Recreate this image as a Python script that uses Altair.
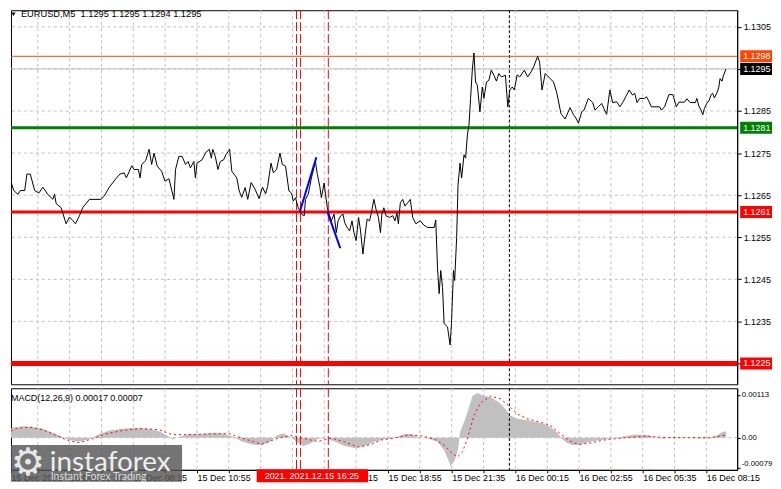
import altair as alt
import pandas as pd

# ---------------- data ----------------
# bar index: 0 = 15 Dec 02:55, one bar = 5 minutes
price_bar = [0.2,1.0,2.7,3.9,6.0,7.2,9.4,10.5,12.2,14.4,16.5,18.5,21.0,23.5,24.4,25.2,27.7,30.2,31.9,33.5,34.9,36.9,38.5,41.9,47.7,49.4,51.9,55.2,57.2,59.4,60.5,63.2,64.4,66.5,67.4,68.2,70.2,71.9,73.2,74.4,76.0,78.2,79.9,81.9,84.4,85.2,86.9,88.5,90.2,91.5,92.7,94.4,95.2,96.0,98.5,100.5,102.2,103.2,103.9,105.2,106.5,107.7,109.4,110.5,112.4,113.5,116.0,117.2,118.5,120.2,121.5,123.2,125.2,127.2,128.9,130.5,131.5,133.2,134.4,136.0,137.7,138.9,140.5,142.2,143.5,144.4,145.5,146.9,148.5,149.9,150.5,151.9,153.5,155.5,156.5,157.7,158.5,159.9,160.5,161.5,162.2,163.5,164.9,166.0,166.9,168.2,169.4,170.2,171.5,172.7,173.9,174.9,176.0,177.2,178.2,179.4,180.5,181.5,182.7,183.5,184.9,186.0,187.2,188.2,188.9,189.9,191.0,192.7,194.4,195.5,196.5,197.2,198.2,199.4,200.5,201.9,203.2,204.4,206.0,208.2,210.0,211.9,215.2,216.0,216.9,217.7,218.5,219.4,220.2,221.9,223.2,223.9,224.9,225.5,226.5,227.2,228.2,229.0,230.2,231.0,231.9,232.7,233.5,234.4,235.2,236.0,236.9,238.2,239.4,240.2,241.5,242.7,243.9,245.2,246.5,247.7,249.0,251.0,252.2,253.2,254.4,255.5,256.9,258.2,260.5,262.2,263.9,265.2,267.2,268.2,269.4,271.0,272.7,275.2,276.9,278.9,281.0,283.5,285.2,286.5,287.7,289.4,290.5,292.7,294.9,296.0,297.7,299.4,300.5,301.9,303.5,304.9,306.9,308.5,310.2,311.5,313.2,314.9,316.0,317.2,318.5,321.0,321.9,323.2,324.4,328.5,329.4,331.0,333.2,335.2,336.9,338.2,341.0,342.2,343.9,346.5,347.2,348.2,349.4,350.2,351.0,352.2,353.5,354.4,355.2,356.0,357.2,358.2,358.9,359.9,360.5,361.9]
price_val = [1.12671,1.12652,1.12679,1.12661,1.12652,1.12661,1.12661,1.12700,1.12700,1.12661,1.12655,1.12669,1.12652,1.12640,1.12652,1.12630,1.12620,1.12582,1.12598,1.12590,1.12582,1.12601,1.12620,1.12640,1.12640,1.12648,1.12669,1.12689,1.12700,1.12703,1.12691,1.12720,1.12711,1.12711,1.12691,1.12723,1.12732,1.12759,1.12723,1.12750,1.12719,1.12707,1.12683,1.12689,1.12640,1.12711,1.12742,1.12742,1.12723,1.12730,1.12715,1.12730,1.12691,1.12726,1.12734,1.12752,1.12759,1.12738,1.12759,1.12742,1.12711,1.12730,1.12734,1.12746,1.12759,1.12707,1.12691,1.12660,1.12645,1.12668,1.12640,1.12680,1.12664,1.12642,1.12669,1.12653,1.12671,1.12726,1.12703,1.12711,1.12750,1.12723,1.12719,1.12660,1.12655,1.12636,1.12644,1.12620,1.12605,1.12601,1.12640,1.12652,1.12691,1.12730,1.12699,1.12671,1.12644,1.12679,1.12655,1.12620,1.12608,1.12589,1.12605,1.12561,1.12589,1.12601,1.12605,1.12585,1.12573,1.12565,1.12589,1.12561,1.12542,1.12597,1.12565,1.12510,1.12557,1.12593,1.12589,1.12605,1.12640,1.12616,1.12597,1.12561,1.12605,1.12620,1.12601,1.12597,1.12601,1.12589,1.12608,1.12582,1.12632,1.12640,1.12624,1.12632,1.12640,1.12597,1.12582,1.12589,1.12579,1.12573,1.12573,1.12591,1.12475,1.12416,1.12471,1.12431,1.12345,1.12337,1.12294,1.12345,1.12471,1.12447,1.12549,1.12675,1.12726,1.12691,1.12746,1.12738,1.12793,1.12817,1.12880,1.12950,1.12988,1.12919,1.12911,1.12848,1.12907,1.12880,1.12919,1.12923,1.12947,1.12935,1.12921,1.12939,1.12931,1.12935,1.12860,1.12900,1.12907,1.12900,1.12936,1.12931,1.12947,1.12931,1.12943,1.12955,1.12980,1.12966,1.12900,1.12939,1.12931,1.12919,1.12892,1.12844,1.12831,1.12858,1.12841,1.12833,1.12821,1.12848,1.12852,1.12880,1.12870,1.12852,1.12860,1.12868,1.12856,1.12842,1.12900,1.12870,1.12872,1.12860,1.12872,1.12884,1.12900,1.12888,1.12892,1.12870,1.12880,1.12880,1.12884,1.12872,1.12860,1.12860,1.12852,1.12860,1.12889,1.12889,1.12860,1.12871,1.12871,1.12879,1.12870,1.12870,1.12880,1.12862,1.12852,1.12841,1.12856,1.12868,1.12876,1.12889,1.12892,1.12881,1.12892,1.12905,1.12927,1.12921,1.12933,1.12950]

hist_bar = [0.2,3.5,8.5,13.5,18.5,23.5,27.7,31.9,36.9,41.9,46.9,51.9,58.5,65.2,71.9,76.9,81.0,83.5,86.9,91.9,98.5,105.2,110.2,114.4,118.5,123.5,128.5,132.7,136.0,139.4,142.7,146.0,149.4,152.7,156.9,161.0,165.2,170.2,175.2,180.2,185.2,190.2,195.2,200.2,203.5,206.9,211.9,216.9,220.2,222.7,223.5,225.5,227.2,228.2,230.2,232.2,234.4,236.9,239.4,243.5,247.7,251.0,253.5,256.9,261.9,266.9,270.2,273.5,276.9,279.4,281.9,285.2,288.5,293.5,298.5,303.5,308.5,315.2,321.9,326.9,330.2,335.2,341.9,348.5,353.5,356.9,360.2,361.9]
hist_val = [0.00015,0.00027,0.00030,0.00028,0.00024,0.00013,0.00004,-0.00007,-0.00010,-0.00004,0.00010,0.00019,0.00024,0.00026,0.00024,0.00017,0.00006,-0.00004,0.00002,0.00009,0.00010,0.00013,0.00010,0.00002,-0.00010,-0.00018,-0.00020,-0.00011,0.00006,0.00012,0.00002,-0.00011,-0.00022,-0.00016,-0.00003,-0.00001,-0.00010,-0.00022,-0.00027,-0.00022,-0.00011,-0.00004,-0.00001,0.00010,0.00010,0.00002,-0.00002,-0.00011,-0.00033,-0.00064,-0.00075,-0.00060,-0.00031,0.00015,0.00041,0.00072,0.00110,0.00118,0.00112,0.00107,0.00094,0.00076,0.00059,0.00050,0.00046,0.00041,0.00037,0.00028,0.00015,-0.00003,-0.00014,-0.00020,-0.00018,-0.00011,-0.00007,-0.00002,0.00002,0.00008,0.00008,0.00000,-0.00003,0.00002,0.00000,-0.00002,-0.00002,0.00005,0.00015,0.00017]

sig_bar = [0.2,5.2,11.9,18.5,25.2,31.9,36.9,43.5,50.2,58.5,68.5,76.9,83.5,91.9,101.9,111.9,118.5,128.5,136.9,143.5,150.2,156.9,163.5,170.2,176.9,183.5,188.5,195.2,201.9,208.5,215.2,220.2,224.4,226.9,229.4,231.9,235.2,238.5,243.5,248.5,252.7,256.9,261.9,268.5,273.5,278.5,283.5,287.7,293.5,301.9,311.9,321.9,331.9,343.5,353.5,358.5,361.9]
sig_val = [0.00012,0.00024,0.00028,0.00021,0.00006,-0.00009,-0.00013,-0.00003,0.00010,0.00019,0.00024,0.00021,0.00008,0.00008,0.00010,0.00011,-0.00001,-0.00017,-0.00001,0.00006,-0.00003,-0.00010,-0.00001,-0.00011,-0.00025,-0.00018,-0.00006,-0.00001,0.00007,0.00005,-0.00003,-0.00020,-0.00042,-0.00051,-0.00038,-0.00003,0.00059,0.00092,0.00110,0.00103,0.00085,0.00063,0.00050,0.00041,0.00033,0.00011,-0.00009,-0.00018,-0.00014,-0.00005,0.00000,0.00004,0.00000,0.00000,0.00000,0.00004,0.00007]

blue_id = ["a", "a", "b", "b"]
blue_bar = [147.7, 156.0, 161.5, 168.0]
blue_val = [1.12611, 1.12740, 1.12611, 1.12524]

level_vals = [1.1298, 1.1295, 1.1281, 1.1261, 1.1225]
level_text = ["1.1298", "1.1295", "1.1281", "1.1261", "1.1225"]
level_color = ["#FF4500", "#C0C0C0", "#008000", "#FF0000", "#FF0000"]
level_width = [1, 1, 3, 3, 5]
level_box = ["#FF4500", "#000000", "#008000", "#FF0000", "#FF0000"]

red_vline_bars = [146, 148, 162]
black_vline_bars = [253]
grid_bars = [16, 32, 48, 64, 80, 96, 112, 128, 144, 160, 176, 192, 208, 224, 240, 256, 272, 288, 304, 320, 336, 352]
y_ticks = [1.1225, 1.1235, 1.1245, 1.1255, 1.1265, 1.1275, 1.1285, 1.1295, 1.1305]
y_tick_labels = ["1.1225", "1.1235", "1.1245", "1.1255", "1.1265", "1.1275", "1.1285", "1.1295", "1.1305"]
x_label_bars = [0, 32, 64, 96, 128, 160, 192, 224, 256, 288, 320, 352]
x_labels = ["15 Dec 2021", "15 Dec 05:35", "15 Dec 08:15", "15 Dec 10:55", "15 Dec 13:35",
            "15 Dec 16:15", "15 Dec 18:55", "15 Dec 21:35", "16 Dec 00:15", "16 Dec 02:55",
            "16 Dec 05:35", "16 Dec 08:15"]
macd_ticks = [0.00113, 0.0, -0.00079]
macd_tick_labels = ["0.00113", "0.00", "-0.00079"]

title_text = "EURUSD,M5\u00a0 1.1295 1.1295 1.1294 1.1295"
macd_text = "MACD(12,26,9) 0.00017 0.00007"
date_box_text = "2021.  2021.12.15 16:25"

# ---------------- layout ----------------
W = 730
H_MAIN = 376
H_MACD = 82
X_LO = 2.5
X_HI = X_LO + W / 2
FONT = "Liberation Sans"


def ternary(vals, labels):
    expr = "''"
    for v, l in zip(vals, labels):
        expr = f"abs(datum.value - ({v})) < 1e-9 ? '{l}' : " + expr
    return expr


xs = alt.Scale(domain=[X_LO, X_HI], nice=False, zero=False)
ys_main = alt.Scale(domain=[1.1220058, 1.1308948], nice=False, zero=False)
ys_macd = alt.Scale(domain=[-0.00085, 0.001308], nice=False, zero=False)

# shared axis definitions (identical in every layer so that they merge)
ax_main_y = alt.Axis(
    orient="right", values=y_ticks, labelExpr=ternary(y_ticks, y_tick_labels),
    grid=False, ticks=True, tickSize=4, tickColor="black", domain=True, domainColor="black",
    labelPadding=2, labelFontSize=9, labelFont=FONT, labelColor="black", title=None,
    labelOverlap=False, labelBound=False)
ax_macd_y = alt.Axis(
    orient="right", values=macd_ticks, labelExpr=ternary(macd_ticks, macd_tick_labels),
    grid=False, ticks=True, tickSize=3, tickColor="black", domain=True, domainColor="black",
    labelPadding=1, labelFontSize=7.8, labelFont=FONT, labelColor="black", title=None,
    labelOverlap=False, labelBound=False,
    labelBaseline={"condition": {"test": "datum.value < 0", "value": "bottom"},
                   "value": "middle"})
xaxis_vals = sorted(set(grid_bars + [max(b, X_LO) for b in x_label_bars]))
xaxis_labels_vals = [max(b, X_LO) for b in x_label_bars]
ax_macd_x = alt.Axis(
    values=xaxis_vals, labelExpr=ternary(xaxis_labels_vals, x_labels), grid=False,
    ticks=True, tickSize=3, tickColor="black", domain=True, domainColor="black",
    labelAlign="left", labelBaseline="top", labelPadding=1, labelFontSize=9, labelFont=FONT,
    labelColor="black", labelOverlap=False, labelBound=False, labelFlush=False, title=None)

price_df = pd.DataFrame({"b": price_bar, "p": price_val})
hist_df = pd.DataFrame({"b": hist_bar, "v": hist_val})
sig_df = pd.DataFrame({"b": sig_bar, "v": sig_val})
blue_df = pd.DataFrame({"id": blue_id, "b": blue_bar, "p": blue_val})
lvl_df = pd.DataFrame({"p": level_vals, "t": level_text, "c": level_color,
                       "w": level_width, "bc": level_box})
grid_df = pd.DataFrame({"b": grid_bars})
ygrid_df = pd.DataFrame({"p": y_ticks})
redv_df = pd.DataFrame({"b": red_vline_bars})
blkv_df = pd.DataFrame({"b": black_vline_bars})
one = pd.DataFrame({"a": [0]})


def XM():
    return alt.X("b:Q", scale=xs, axis=None)


def YM(field="p"):
    return alt.Y(f"{field}:Q", scale=ys_main, axis=ax_main_y)


def XD():
    return alt.X("b:Q", scale=xs, axis=ax_macd_x)


def YD(field="v"):
    return alt.Y(f"{field}:Q", scale=ys_macd, axis=ax_macd_y)


# ---------------- main price panel ----------------
vgrid = alt.Chart(grid_df).mark_rule(color="#C0C0C0", strokeDash=[3, 3], strokeWidth=1).encode(x=XM())
hgrid = alt.Chart(ygrid_df).mark_rule(color="#C0C0C0", strokeDash=[3, 3], strokeWidth=1).encode(y=YM())
redv_main = alt.Chart(redv_df).mark_rule(color="#FF0000", strokeDash=[9, 3], strokeWidth=1).encode(x=XM())
blkv_main = alt.Chart(blkv_df).mark_rule(color="#000000", strokeDash=[3, 2], strokeWidth=1).encode(x=XM())
levels = alt.Chart(lvl_df).mark_rule().encode(
    y=YM(), color=alt.Color("c:N", scale=None),
    strokeWidth=alt.StrokeWidth("w:Q", scale=None))
price_line = alt.Chart(price_df).mark_line(color="black", strokeWidth=1, clip=True).encode(
    x=XM(), y=YM())
blue_lines = alt.Chart(blue_df).mark_line(color="#0000FF", strokeWidth=2, clip=True).encode(
    x=XM(), y=YM(), detail="id:N")

box_w, box_h = 32, 12
box_path = f"M-1,{-box_h/box_w:.4f}L1,{-box_h/box_w:.4f}L1,{box_h/box_w:.4f}L-1,{box_h/box_w:.4f}Z"
lvl_boxes = alt.Chart(lvl_df).mark_point(shape=box_path, filled=True, opacity=1, size=box_w ** 2,
                                         strokeWidth=0).encode(
    x=alt.value(W + 3 + box_w / 2), y=YM(), color=alt.Color("bc:N", scale=None))
lvl_texts = alt.Chart(lvl_df).mark_text(align="left", baseline="middle", color="white",
                                        font=FONT, fontSize=9).encode(
    x=alt.value(W + 6), y=YM(), text="t:N")

title = alt.Chart(one).mark_text(align="left", baseline="middle", font=FONT, fontSize=9.3,
                                 color="black", text=title_text).encode(
    x=alt.value(10), y=alt.value(4))
tri = alt.Chart(one).mark_point(shape="triangle-down", filled=True, color="black", size=18,
                                opacity=1).encode(x=alt.value(2.5), y=alt.value(4))

main = alt.layer(vgrid, hgrid, redv_main, blkv_main, levels, price_line, blue_lines,
                 lvl_boxes, lvl_texts, tri, title).properties(width=W, height=H_MAIN)

# ---------------- MACD panel ----------------
vgrid2 = alt.Chart(grid_df).mark_rule(color="#C0C0C0", strokeDash=[3, 3], strokeWidth=1).encode(x=XD())
zero = alt.Chart(pd.DataFrame({"v": [0.0]})).mark_rule(color="#C0C0C0", strokeDash=[3, 3]).encode(y=YD())
hist = alt.Chart(hist_df).mark_area(color="#C0C0C0", opacity=1, clip=True).encode(
    x=XD(), y=YD(), y2=alt.datum(0))
redv2 = alt.Chart(redv_df).mark_rule(color="#FF0000", strokeDash=[9, 3], strokeWidth=1).encode(x=XD())
blkv2 = alt.Chart(blkv_df).mark_rule(color="#000000", strokeDash=[3, 2], strokeWidth=1).encode(x=XD())
signal = alt.Chart(sig_df).mark_line(color="#FF0000", strokeDash=[2, 3], strokeWidth=1, clip=True).encode(
    x=XD(), y=YD())
macd_label = alt.Chart(one).mark_text(align="left", baseline="middle", font=FONT, fontSize=9,
                                      color="black", text=macd_text).encode(
    x=alt.value(0), y=alt.value(9.5))

wm_box = alt.Chart(one).mark_rect(fill="#555555", opacity=0.82).encode(
    x=alt.value(0), x2=alt.value(172), y=alt.value(57), y2=alt.value(94))
wm_gear = alt.Chart(one).mark_text(align="center", baseline="middle", font="DejaVu Sans",
                                   fontSize=38, color="#e8e8e8", text="\u2699").encode(
    x=alt.value(17), y=alt.value(76))
wm_name = alt.Chart(one).mark_text(align="left", baseline="alphabetic", font="Lato",
                                   fontSize=28, color="#eeeeee", text="instaforex").encode(
    x=alt.value(39), y=alt.value(83))
wm_sub = alt.Chart(one).mark_text(align="left", baseline="middle", font="Lato",
                                  fontSize=10.5, color="#dddddd", text="Instant Forex Trading").encode(
    x=alt.value(40), y=alt.value(89))

db_w, db_h = 112, 13
db_path = f"M-1,{-db_h/db_w:.4f}L1,{-db_h/db_w:.4f}L1,{db_h/db_w:.4f}L-1,{db_h/db_w:.4f}Z"
date_box = alt.Chart(one).mark_point(shape=db_path, filled=True, color="#FF0000", opacity=1,
                                     size=db_w ** 2, strokeWidth=0).encode(
    x=alt.value(247 + db_w / 2), y=alt.value(88))
date_txt = alt.Chart(one).mark_text(align="left", baseline="middle", font=FONT, fontSize=9,
                                    color="white", text=date_box_text).encode(
    x=alt.value(255), y=alt.value(88))

macd = alt.layer(vgrid2, zero, hist, redv2, blkv2, signal, macd_label,
                 wm_box, wm_gear, wm_name, wm_sub, date_box, date_txt).properties(
    width=W, height=H_MACD)

chart = alt.vconcat(main, macd, spacing=2).properties(
    padding=0, background="white"
).configure_view(stroke="black", strokeWidth=1).configure_concat(spacing=2)

chart.save("out.html", embed_options={"renderer": "svg", "actions": False})
